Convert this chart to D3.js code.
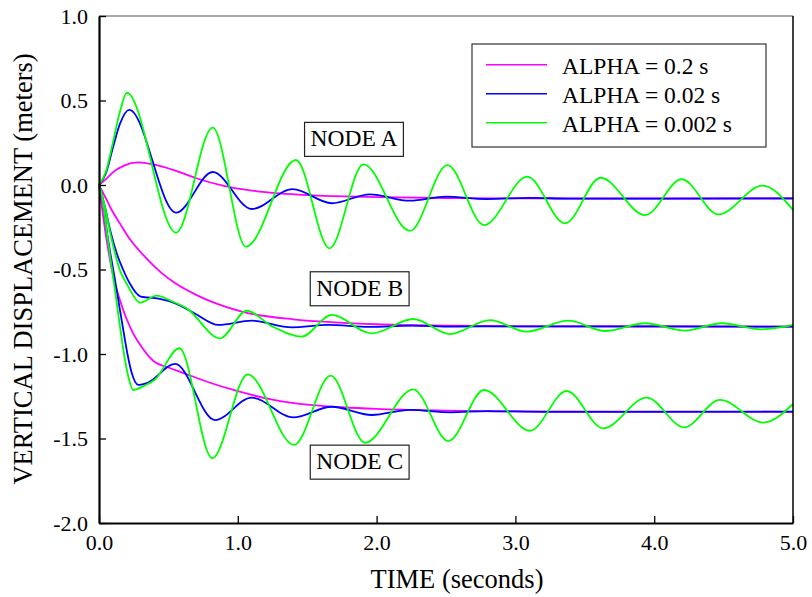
<!DOCTYPE html>
<html>
  <head>
    <meta charset='utf-8' />
    <title>Vertical displacement</title>
    <style>
      body {
        margin: 0;
        background-color: white;
      }
    </style>
  </head>
<body>
  <svg id="chart" width="812" height="597"></svg>

  <script src="https://d3js.org/d3.v7.min.js"></script>
  <script>
    // [time (s), displacement (m)]
    // ALPHA = 0.2 s
    const nodeA_a1 = [[0,0],[0.05,0.035],[0.1,0.075],[0.18,0.115],[0.28,0.134],[0.4,0.12],[0.55,0.085],[0.7,0.04],[0.9,-0.005],[1.1,-0.033],[1.3,-0.05],[1.5,-0.06],[1.7,-0.066],[2.0,-0.072],[2.5,-0.077],[3.0,-0.079],[4.0,-0.08],[5.0,-0.08]];
    const nodeB_a1 = [[0,0],[0.05,-0.08],[0.1,-0.16],[0.15,-0.227],[0.21,-0.306],[0.33,-0.424],[0.45,-0.52],[0.55,-0.582],[0.7,-0.65],[0.81,-0.69],[1.05,-0.753],[1.4,-0.795],[1.7,-0.813],[2.0,-0.824],[2.5,-0.832],[3.0,-0.836],[5.0,-0.838]];
    const nodeC_a1 = [[0,0],[0.05,-0.3],[0.1,-0.53],[0.15,-0.68],[0.235,-0.86],[0.3,-0.95],[0.39,-1.04],[0.5,-1.08],[0.6,-1.11],[0.8,-1.17],[1.0,-1.22],[1.25,-1.27],[1.5,-1.3],[1.75,-1.315],[2.0,-1.325],[2.5,-1.335],[3.0,-1.34],[5.0,-1.342]];

    // ALPHA = 0.02 s
    const nodeA_a2 = [[0,0],[0.05,0.07],[0.1,0.22],[0.15,0.36],[0.218,0.444],[0.555,-0.164],[0.819,0.077],[1.1,-0.142],[1.395,-0.024],[1.676,-0.108],[1.952,-0.055],[2.24,-0.093],[2.5,-0.069],[2.79,-0.083],[3.1,-0.076],[3.4,-0.081],[5.0,-0.079]];
    const nodeB_a2 = [[0,0],[0.04,-0.12],[0.08,-0.266],[0.13,-0.41],[0.175,-0.503],[0.22,-0.58],[0.3,-0.66],[0.43,-0.672],[0.55,-0.7],[0.69,-0.76],[0.86,-0.828],[1.1,-0.803],[1.39,-0.842],[1.65,-0.828],[1.95,-0.84],[2.25,-0.832],[2.55,-0.838],[3.0,-0.836],[5.0,-0.838]];
    const nodeC_a2 = [[0,0],[0.03,-0.1],[0.055,-0.266],[0.085,-0.42],[0.115,-0.56],[0.145,-0.71],[0.175,-0.858],[0.205,-1.0],[0.235,-1.11],[0.283,-1.183],[0.35,-1.17],[0.548,-1.059],[0.836,-1.391],[1.1,-1.258],[1.4,-1.375],[1.676,-1.312],[1.965,-1.361],[2.24,-1.331],[2.53,-1.345],[2.8,-1.338],[3.2,-1.342],[5.0,-1.341]];

    // ALPHA = 0.002 s
    const nodeA_a3 = [[0,0],[0.05,0.08],[0.1,0.25],[0.15,0.43],[0.2,0.546],[0.555,-0.282],[0.819,0.339],[1.059,-0.365],[1.419,0.148],[1.66,-0.375],[1.905,0.122],[2.24,-0.272],[2.51,0.118],[2.774,-0.237],[3.086,0.049],[3.357,-0.227],[3.614,0.043],[3.934,-0.178],[4.198,0.034],[4.462,-0.174],[4.78,-0.004],[5.0,-0.148]];
    const nodeB_a3 = [[0,0],[0.04,-0.12],[0.08,-0.28],[0.15,-0.503],[0.21,-0.6],[0.295,-0.696],[0.415,-0.655],[0.53,-0.69],[0.632,-0.73],[0.872,-0.907],[1.064,-0.744],[1.244,-0.835],[1.46,-0.897],[1.676,-0.769],[1.965,-0.878],[2.264,-0.793],[2.529,-0.882],[2.817,-0.799],[3.081,-0.868],[3.381,-0.803],[3.646,-0.864],[3.934,-0.818],[4.222,-0.862],[4.486,-0.818],[4.774,-0.854],[5.0,-0.828]];
    const nodeC_a3 = [[0,0],[0.03,-0.1],[0.055,-0.27],[0.085,-0.45],[0.115,-0.62],[0.15,-0.83],[0.18,-1.0],[0.21,-1.13],[0.247,-1.213],[0.32,-1.19],[0.4,-1.154],[0.579,-0.966],[0.816,-1.617],[1.071,-1.12],[1.405,-1.538],[1.669,-1.128],[1.916,-1.525],[2.264,-1.209],[2.517,-1.515],[2.774,-1.213],[3.105,-1.454],[3.369,-1.219],[3.633,-1.44],[3.946,-1.258],[4.215,-1.434],[4.474,-1.272],[4.786,-1.406],[5.0,-1.296]];

    const legendLabels = ["ALPHA = 0.2 s", "ALPHA = 0.02 s", "ALPHA = 0.002 s"];
    const seriesColors = ["#ff00ff", "#0000ff", "#00ff00"];
    const xTicks = [0, 1, 2, 3, 4, 5];
    const yTicks = [1.0, 0.5, 0.0, -0.5, -1.0, -1.5, -2.0];
    const nodeNames = ["NODE A", "NODE B", "NODE C"];
    const nodeLabelAt = [[1.837, 0.27], [1.878, -0.614], [1.878, -1.64]];

    // drawing order: magenta, blue, green on top
    const groups = [
      [nodeA_a1, nodeB_a1, nodeC_a1],
      [nodeA_a2, nodeB_a2, nodeC_a2],
      [nodeA_a3, nodeB_a3, nodeC_a3]
    ];

    const serif = '"Liberation Serif", "Times New Roman", Times, serif';
    const plotLeft = 99, plotTop = 16, plotRight = 793, plotBottom = 523;

    const svg = d3.select("#chart");

    const xScale = d3.scaleLinear()
                     .domain([0, 5])
                     .range([plotLeft, plotRight]);

    const yScale = d3.scaleLinear()
                     .domain([-2, 1])
                     .range([plotBottom, plotTop]);

    const line = d3.line()
                   .x(d => xScale(d[0]))
                   .y(d => yScale(d[1]))
                   .curve(d3.curveMonotoneX);

    // curves
    groups.forEach((set, i) => {
      svg.append("g")
         .selectAll("path")
         .data(set)
         .enter()
         .append("path")
         .attr("d", line)
         .attr("fill", "none")
         .attr("stroke", seriesColors[i])
         .attr("stroke-width", 1.8);
    });

    // frame top and right
    svg.append("line")
       .attr("x1", plotLeft).attr("x2", plotRight)
       .attr("y1", plotTop).attr("y2", plotTop)
       .attr("stroke", "#555")
       .attr("stroke-width", 1.2);
    svg.append("line")
       .attr("x1", plotRight).attr("x2", plotRight)
       .attr("y1", plotTop).attr("y2", plotBottom)
       .attr("stroke", "black")
       .attr("stroke-width", 1.5);

    const xAxis = d3.axisBottom(xScale)
                    .tickValues(xTicks)
                    .tickSize(-7)
                    .tickSizeOuter(0)
                    .tickPadding(11)
                    .tickFormat(d => d.toFixed(1));

    const yAxis = d3.axisLeft(yScale)
                    .tickValues(yTicks)
                    .tickSize(-7)
                    .tickSizeOuter(0)
                    .tickPadding(11)
                    .tickFormat(d => d.toFixed(1));

    const gx = svg.append("g")
                  .attr("transform", "translate(0," + plotBottom + ")")
                  .call(xAxis);
    const gy = svg.append("g")
                  .attr("transform", "translate(" + plotLeft + ",0)")
                  .call(yAxis);

    [gx, gy].forEach(g => {
      g.attr("font-family", null).attr("font-size", null);
      g.select(".domain").attr("stroke", "black").attr("stroke-width", 2.2);
      g.selectAll(".tick line").attr("stroke", "black").attr("stroke-width", 1.3);
      g.selectAll(".tick text")
       .attr("fill", "black")
       .style("font-family", serif)
       .style("font-size", "22px");
    });

    // axis titles
    svg.append("text")
       .attr("x", 457)
       .attr("y", 588)
       .attr("text-anchor", "middle")
       .style("font-family", serif)
       .style("font-size", "26.5px")
       .text("TIME (seconds)");

    svg.append("text")
       .attr("transform", "translate(32,269) rotate(-90)")
       .attr("text-anchor", "middle")
       .style("font-family", serif)
       .style("font-size", "26.5px")
       .text("VERTICAL DISPLACEMENT (meters)");

    // node labels in boxes
    nodeNames.forEach((name, i) => {
      let cx = xScale(nodeLabelAt[i][0]);
      let cy = yScale(nodeLabelAt[i][1]);
      let box = svg.append("g");
      let rect = box.append("rect")
                    .attr("y", cy - 17)
                    .attr("height", 34)
                    .attr("fill", "white")
                    .attr("stroke", "#222")
                    .attr("stroke-width", 1.2);
      let t = box.append("text")
                 .attr("x", cx)
                 .attr("y", cy + 7)
                 .attr("text-anchor", "middle")
                 .style("font-family", serif)
                 .style("font-size", "23.5px")
                 .text(name);
      let w = t.node().getComputedTextLength() + 12;
      rect.attr("x", cx - w / 2).attr("width", w);
    });

    // legend
    const legend = svg.append("g").attr("id", "legend");
    legend.append("rect")
          .attr("x", 472)
          .attr("y", 44)
          .attr("width", 294)
          .attr("height", 103)
          .attr("fill", "white")
          .attr("stroke", "#333")
          .attr("stroke-width", 1.2);

    legendLabels.forEach((label, i) => {
      let ly = 64.7 + i * 29;
      legend.append("line")
            .attr("x1", 486).attr("x2", 547)
            .attr("y1", ly).attr("y2", ly)
            .attr("stroke", seriesColors[i])
            .attr("stroke-width", 1.5);
      legend.append("text")
            .attr("x", 562)
            .attr("y", ly + 9)
            .style("font-family", serif)
            .style("font-size", "23.5px")
            .text(label);
    });
  </script>
</body>
</html>
